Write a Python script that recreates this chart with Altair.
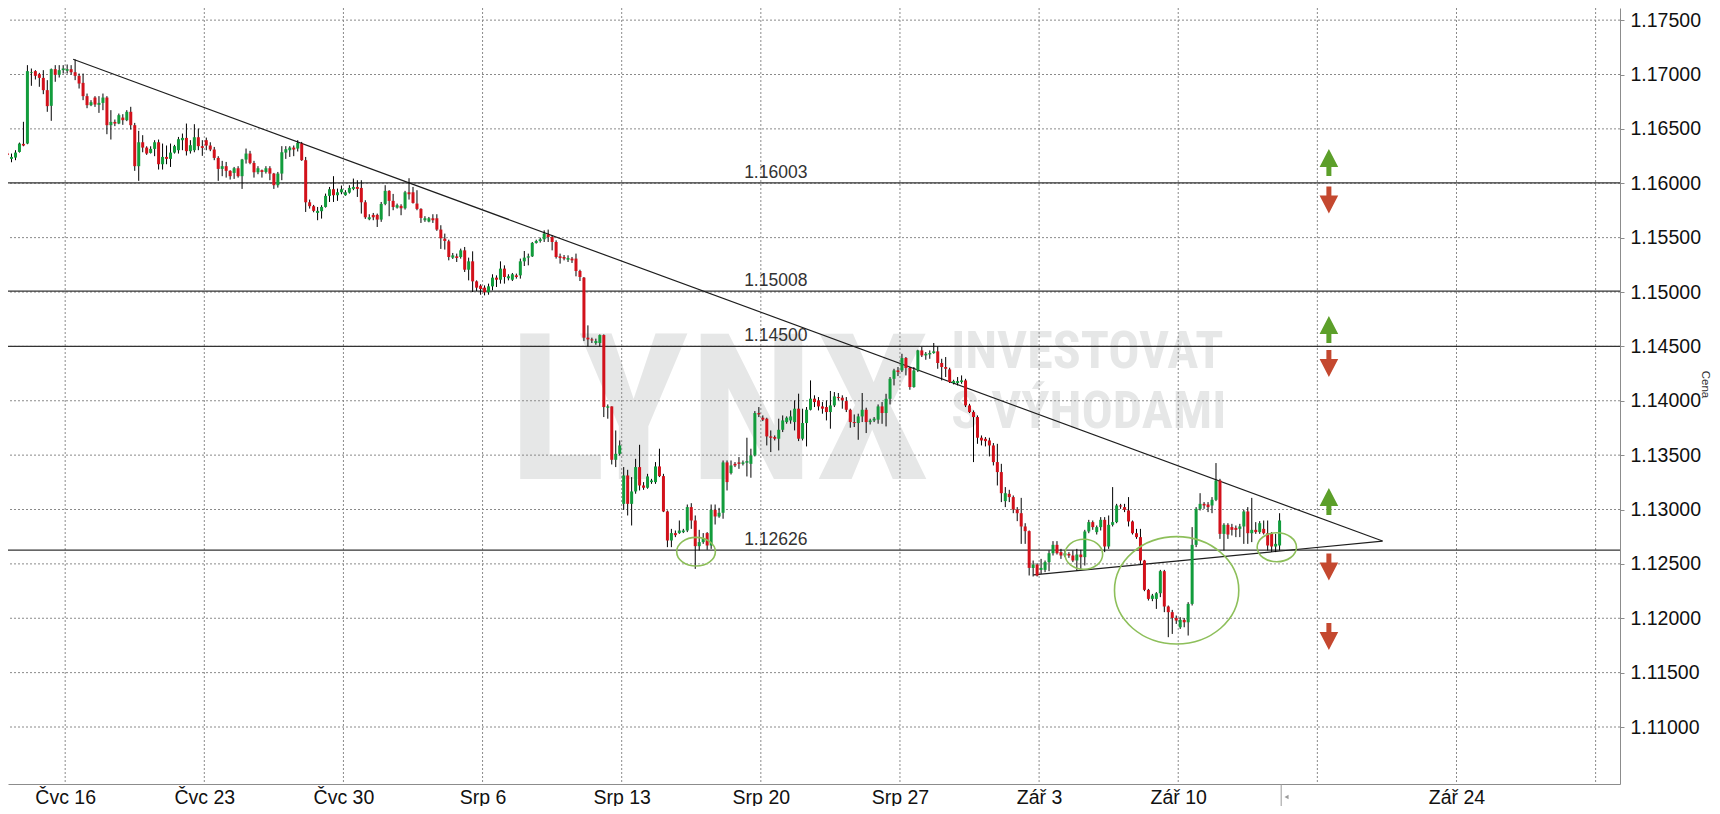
import json
import altair as alt
import pandas as pd

# ---------------- candle data (bar index based) ----------------
OPEN = [1.16273,1.16224,1.16236,1.16288,1.16362,1.16365,1.17015,1.17031,1.17003,1.16969,
1.16856,1.16712,1.17049,1.16997,1.17040,1.17034,1.17049,1.17021,1.16988,1.16923,
1.16801,1.16718,1.16788,1.16721,1.16739,1.16788,1.16534,1.16564,1.16549,1.16604,
1.16580,1.16657,1.16534,1.16157,1.16377,1.16328,1.16279,1.16316,1.16377,1.16175,
1.16242,1.16224,1.16282,1.16304,1.16396,1.16417,1.16295,1.16304,1.16423,1.16341,
1.16396,1.16347,1.16310,1.16233,1.16132,1.16157,1.16114,1.16095,1.16138,1.16065,
1.16218,1.16273,1.16187,1.16101,1.16120,1.16104,1.16138,1.16089,1.15982,1.16089,
1.16282,1.16304,1.16328,1.16319,1.16365,1.16212,1.15825,1.15789,1.15727,1.15743,
1.15782,1.15884,1.15945,1.15890,1.15917,1.15890,1.15914,1.15948,1.15966,1.15957,
1.15825,1.15669,1.15709,1.15709,1.15666,1.15810,1.15930,1.15838,1.15776,1.15792,
1.15770,1.15917,1.15917,1.15813,1.15764,1.15660,1.15648,1.15678,1.15678,1.15574,
1.15491,1.15466,1.15316,1.15328,1.15322,1.15383,1.15205,1.15282,1.15098,1.15058,
1.15040,1.14997,1.15052,1.15132,1.15113,1.15215,1.15126,1.15113,1.15153,1.15153,
1.15282,1.15316,1.15328,1.15451,1.15469,1.15485,1.15528,1.15506,1.15460,1.15328,
1.15322,1.15297,1.15307,1.15307,1.15193,1.15132,1.14580,1.14564,1.14531,1.14531,
1.14604,1.13936,1.13948,1.13457,1.13512,1.13052,1.13313,1.13052,1.13166,1.13390,
1.13221,1.13200,1.13252,1.13252,1.13396,1.13307,1.12982,1.12715,1.12783,1.12783,
1.12792,1.12807,1.13022,1.12899,1.12663,1.12700,1.12783,1.12669,1.12997,1.12936,
1.12970,1.13433,1.13335,1.13420,1.13433,1.13420,1.13430,1.13420,1.13497,1.13887,
1.13844,1.13835,1.13672,1.13666,1.13651,1.13733,1.13804,1.13819,1.13804,1.13927,
1.13651,1.13795,1.13917,1.14019,1.14003,1.13948,1.13942,1.13896,1.13957,1.14034,
1.14028,1.13997,1.13917,1.13804,1.13795,1.13856,1.13917,1.13804,1.13819,1.13826,
1.13948,1.13887,1.14018,1.14202,1.14279,1.14279,1.14393,1.14301,1.14126,1.14279,
1.14463,1.14417,1.14426,1.14439,1.14454,1.14347,1.14310,1.14288,1.14163,1.14163,
1.14172,1.14187,1.13957,1.13896,1.13850,1.13660,1.13650,1.13635,1.13589,1.13436,
1.13344,1.13077,1.13144,1.13114,1.13000,1.12966,1.12844,1.12801,1.12463,1.12494,
1.12445,1.12445,1.12516,1.12598,1.12675,1.12608,1.12577,1.12592,1.12577,1.12531,
1.12586,1.12562,1.12798,1.12884,1.12792,1.12838,1.12905,1.12660,1.12859,1.12884,
1.13037,1.13022,1.12991,1.12890,1.12782,1.12746,1.12531,1.12261,1.12178,1.12178,
1.12230,1.12433,1.12108,1.12056,1.12003,1.11917,1.11985,1.11963,1.12132,1.12675,
1.13006,1.13052,1.13046,1.13037,1.13089,1.13267,1.12776,1.12859,1.12838,1.12831,
1.12822,1.12844,1.12982,1.12782,1.12813,1.12792,1.12822,1.12782,1.12776,1.12660,
1.12669]
HIGH = [1.16304,1.16273,1.16304,1.16374,1.16565,1.17086,1.17055,1.17040,1.17015,1.17040,
1.16948,1.17055,1.17086,1.17086,1.17086,1.17092,1.17086,1.17138,1.17009,1.17009,
1.16825,1.16764,1.16801,1.16801,1.16825,1.16801,1.16672,1.16586,1.16641,1.16635,
1.16672,1.16703,1.16555,1.16482,1.16442,1.16340,1.16340,1.16396,1.16402,1.16365,
1.16347,1.16365,1.16353,1.16426,1.16457,1.16549,1.16396,1.16543,1.16503,1.16396,
1.16420,1.16377,1.16334,1.16249,1.16206,1.16196,1.16120,1.16150,1.16157,1.16224,
1.16319,1.16298,1.16206,1.16157,1.16126,1.16157,1.16157,1.16095,1.16104,1.16341,
1.16341,1.16341,1.16347,1.16396,1.16380,1.16242,1.15850,1.15801,1.15782,1.15798,
1.15905,1.15966,1.16065,1.15951,1.15979,1.15936,1.15982,1.16043,1.16028,1.16028,
1.15844,1.15715,1.15727,1.15721,1.15828,1.15982,1.15936,1.15902,1.15813,1.15807,
1.15930,1.16046,1.15966,1.15936,1.15770,1.15697,1.15690,1.15715,1.15715,1.15614,
1.15537,1.15481,1.15359,1.15353,1.15399,1.15414,1.15316,1.15374,1.15107,1.15071,
1.15061,1.15077,1.15163,1.15153,1.15282,1.15245,1.15163,1.15175,1.15169,1.15307,
1.15377,1.15353,1.15460,1.15481,1.15500,1.15567,1.15574,1.15521,1.15475,1.15353,
1.15340,1.15337,1.15322,1.15353,1.15205,1.15138,1.14693,1.14580,1.14571,1.14610,
1.14610,1.13966,1.13948,1.13727,1.13635,1.13390,1.13365,1.13298,1.13466,1.13595,
1.13252,1.13328,1.13282,1.13436,1.13559,1.13328,1.12991,1.12822,1.12807,1.12899,
1.12822,1.13046,1.13058,1.12945,1.12813,1.12783,1.12792,1.13046,1.13046,1.13015,
1.13451,1.13451,1.13451,1.13436,1.13482,1.13451,1.13660,1.13559,1.13905,1.13942,
1.13865,1.13844,1.13727,1.13681,1.13835,1.13865,1.13856,1.13911,1.14003,1.14065,
1.13927,1.13942,1.14187,1.14050,1.14034,1.13988,1.14003,1.14090,1.14080,1.14071,
1.14050,1.14034,1.13927,1.13874,1.13881,1.14071,1.13936,1.13835,1.13850,1.13966,
1.13988,1.14064,1.14218,1.14294,1.14310,1.14432,1.14402,1.14310,1.14310,1.14469,
1.14494,1.14448,1.14463,1.14531,1.14500,1.14386,1.14402,1.14304,1.14193,1.14218,
1.14233,1.14202,1.13972,1.13911,1.13865,1.13681,1.13666,1.13660,1.13611,1.13604,
1.13420,1.13206,1.13181,1.13129,1.13022,1.13107,1.12874,1.12807,1.12531,1.12506,
1.12546,1.12531,1.12623,1.12709,1.12709,1.12638,1.12623,1.12608,1.12623,1.12638,
1.12629,1.12813,1.12905,1.12899,1.12853,1.12930,1.12930,1.12945,1.13206,1.13052,
1.13052,1.13052,1.13114,1.12899,1.12822,1.12822,1.12537,1.12270,1.12224,1.12240,
1.12445,1.12445,1.12117,1.12077,1.12025,1.12010,1.12003,1.12148,1.12838,1.13022,
1.13150,1.13068,1.13068,1.13114,1.13427,1.13282,1.12874,1.12874,1.12868,1.12853,
1.12868,1.12997,1.13022,1.13107,1.12884,1.12893,1.12899,1.12899,1.12792,1.12776,
1.12966]
LOW = [1.16242,1.16193,1.16212,1.16282,1.16340,1.16359,1.16896,1.16954,1.16887,1.16819,
1.16657,1.16574,1.16933,1.16972,1.17009,1.17009,1.17000,1.16948,1.16871,1.16764,
1.16690,1.16709,1.16702,1.16647,1.16672,1.16451,1.16402,1.16525,1.16543,1.16537,
1.16571,1.16494,1.16114,1.16022,1.16285,1.16261,1.16273,1.16249,1.16126,1.16126,
1.16175,1.16150,1.16273,1.16273,1.16304,1.16255,1.16273,1.16285,1.16304,1.16252,
1.16304,1.16295,1.16212,1.16022,1.16065,1.16052,1.16034,1.16040,1.16052,1.15948,
1.16181,1.16175,1.16052,1.16083,1.16052,1.16089,1.16028,1.15948,1.15960,1.16028,
1.16224,1.16242,1.16249,1.16292,1.16206,1.15736,1.15767,1.15733,1.15660,1.15675,
1.15776,1.15828,1.15828,1.15838,1.15899,1.15885,1.15905,1.15936,1.15874,1.15721,
1.15672,1.15660,1.15660,1.15598,1.15645,1.15798,1.15697,1.15752,1.15767,1.15706,
1.15758,1.15850,1.15813,1.15752,1.15635,1.15645,1.15641,1.15635,1.15562,1.15396,
1.15390,1.15291,1.15304,1.15276,1.15307,1.15184,1.15107,1.15000,1.15009,1.14975,
1.14969,1.14975,1.15015,1.15046,1.15077,1.15077,1.15107,1.15101,1.15123,1.15123,
1.15239,1.15245,1.15322,1.15445,1.15454,1.15460,1.15460,1.15383,1.15307,1.15261,
1.15291,1.15276,1.15267,1.15144,1.15101,1.14549,1.14500,1.14531,1.14515,1.14500,
1.13850,1.13835,1.13414,1.13390,1.13497,1.12997,1.12945,1.12853,1.13145,1.13175,
1.13181,1.13191,1.13236,1.13236,1.13298,1.12976,1.12654,1.12654,1.12746,1.12776,
1.12783,1.12792,1.12822,1.12454,1.12623,1.12684,1.12629,1.12638,1.12862,1.12924,
1.12915,1.13175,1.13322,1.13390,1.13374,1.13405,1.13304,1.13292,1.13488,1.13850,
1.13813,1.13589,1.13528,1.13635,1.13543,1.13712,1.13789,1.13789,1.13727,1.13629,
1.13635,1.13580,1.13911,1.13942,1.13911,1.13881,1.13819,1.13743,1.13942,1.14003,
1.13927,1.13896,1.13752,1.13758,1.13641,1.13804,1.13703,1.13782,1.13804,1.13789,
1.13788,1.13764,1.13966,1.14141,1.14227,1.14264,1.14233,1.14101,1.14120,1.14264,
1.14402,1.14377,1.14386,1.14432,1.14294,1.14187,1.14218,1.14163,1.14150,1.14141,
1.14156,1.13942,1.13887,1.13436,1.13604,1.13589,1.13580,1.13488,1.13405,1.13221,
1.13068,1.13022,1.13068,1.12966,1.12893,1.12684,1.12684,1.12393,1.12384,1.12384,
1.12408,1.12424,1.12433,1.12577,1.12586,1.12546,1.12562,1.12555,1.12516,1.12439,
1.12454,1.12485,1.12782,1.12813,1.12770,1.12807,1.12608,1.12638,1.12844,1.12874,
1.13006,1.12976,1.12844,1.12770,1.12730,1.12500,1.12249,1.12163,1.12157,1.12086,
1.12194,1.12056,1.11826,1.11856,1.11948,1.11902,1.11917,1.11841,1.12117,1.12654,
1.12991,1.13006,1.12976,1.12966,1.13077,1.12730,1.12623,1.12730,1.12761,1.12746,
1.12746,1.12684,1.12684,1.12700,1.12776,1.12776,1.12770,1.12623,1.12608,1.12608,
1.12623]
CLOSE = [1.16261,1.16242,1.16282,1.16365,1.16347,1.17031,1.17021,1.16988,1.16969,1.16856,
1.16709,1.17049,1.16997,1.17040,1.17055,1.17049,1.17021,1.16988,1.16917,1.16801,
1.16718,1.16745,1.16724,1.16739,1.16788,1.16534,1.16564,1.16549,1.16626,1.16580,
1.16657,1.16534,1.16157,1.16377,1.16328,1.16273,1.16316,1.16377,1.16175,1.16242,
1.16224,1.16282,1.16341,1.16405,1.16417,1.16295,1.16350,1.16423,1.16341,1.16325,
1.16347,1.16310,1.16233,1.16132,1.16157,1.16114,1.16065,1.16138,1.16065,1.16218,
1.16273,1.16187,1.16101,1.16138,1.16104,1.16138,1.16089,1.15982,1.16089,1.16285,
1.16313,1.16328,1.16310,1.16371,1.16212,1.15825,1.15789,1.15746,1.15746,1.15782,
1.15884,1.15945,1.15890,1.15917,1.15945,1.15917,1.15957,1.15966,1.15948,1.15825,
1.15687,1.15687,1.15687,1.15666,1.15810,1.15930,1.15838,1.15782,1.15798,1.15770,
1.15917,1.15899,1.15819,1.15764,1.15681,1.15678,1.15678,1.15660,1.15574,1.15494,
1.15469,1.15322,1.15337,1.15313,1.15383,1.15205,1.15282,1.15098,1.15040,1.15028,
1.14997,1.15052,1.15132,1.15113,1.15215,1.15138,1.15144,1.15163,1.15138,1.15282,
1.15316,1.15328,1.15451,1.15469,1.15485,1.15537,1.15506,1.15460,1.15322,1.15313,
1.15307,1.15313,1.15291,1.15193,1.15138,1.14580,1.14564,1.14555,1.14549,1.14604,
1.13942,1.13948,1.13457,1.13512,1.13589,1.13313,1.13052,1.13166,1.13390,1.13221,
1.13200,1.13304,1.13267,1.13396,1.13307,1.12982,1.12715,1.12783,1.12764,1.12807,
1.12807,1.13022,1.12899,1.12663,1.12700,1.12730,1.12669,1.12997,1.12936,1.12970,
1.13433,1.13252,1.13405,1.13405,1.13420,1.13433,1.13445,1.13497,1.13887,1.13874,
1.13826,1.13672,1.13660,1.13651,1.13733,1.13819,1.13844,1.13856,1.13927,1.13651,
1.13795,1.13917,1.14019,1.13988,1.13948,1.13927,1.13896,1.13957,1.14040,1.14025,
1.14003,1.13917,1.13804,1.13795,1.13856,1.13917,1.13804,1.13819,1.13835,1.13948,
1.13887,1.14018,1.14202,1.14279,1.14264,1.14393,1.14301,1.14126,1.14279,1.14463,
1.14417,1.14432,1.14439,1.14454,1.14347,1.14310,1.14294,1.14172,1.14181,1.14181,
1.14187,1.13957,1.13896,1.13850,1.13660,1.13635,1.13629,1.13589,1.13436,1.13344,
1.13150,1.13150,1.13114,1.13000,1.12966,1.12844,1.12801,1.12463,1.12494,1.12393,
1.12463,1.12516,1.12598,1.12675,1.12598,1.12577,1.12598,1.12577,1.12531,1.12586,
1.12562,1.12798,1.12884,1.12838,1.12838,1.12905,1.12660,1.12859,1.12884,1.13037,
1.13028,1.12997,1.12890,1.12782,1.12746,1.12531,1.12261,1.12178,1.12209,1.12230,
1.12433,1.12108,1.12056,1.12003,1.11979,1.11985,1.11963,1.12132,1.12675,1.13006,
1.13052,1.13037,1.13022,1.13089,1.13267,1.12776,1.12859,1.12770,1.12813,1.12813,
1.12844,1.12982,1.12782,1.12813,1.12792,1.12874,1.12782,1.12669,1.12660,1.12684,
1.12899]

# ---------------- axes ----------------
WEEK_POS = [14.5, 49.5, 84.5, 119.5, 154.5, 189.5, 224.5, 259.5, 294.5, 329.5, 364.5, 399.5]
WEEK_LABELS = ["Čvc 16", "Čvc 23", "Čvc 30", "Srp 6", "Srp 13", "Srp 20", "Srp 27",
               "Zář 3", "Zář 10", "", "Zář 24", ""]
PRICE_TICKS = [1.110, 1.115, 1.120, 1.125, 1.130, 1.135, 1.140, 1.145,
               1.150, 1.155, 1.160, 1.165, 1.170, 1.175]

# ---------------- annotations ----------------
LEVELS = [1.16003, 1.15008, 1.14500, 1.12626]
LEVEL_TEXT = ["1.16003", "1.15008", "1.14500", "1.12626"]
TREND_ID = ["upper", "upper", "lower", "lower"]
TREND_X = [16.5, 345.9, 258.1, 345.9]
TREND_Y = [1.17140, 1.12710, 1.12398, 1.12710]
ELL_X = [173.2, 270.75, 294.1, 319.3]
ELL_Y = [1.12612, 1.12588, 1.12257, 1.12653]
ELL_W = [38.7, 37.7, 124.3, 39.3]
ELL_H = [28.7, 30.0, 107.3, 29.0]
UP_ARROW_Y = [1.16191, 1.14655, 1.13074]
DOWN_ARROW_Y = [1.15846, 1.14343, 1.12471, 1.11832]
ARROW_X = 332.4
WM_BIG = "LYNX"
WM_SMALL = ["INVESTOVAT", "S VÝHODAMI"]
WM_SMALL_Y = [1.14298, 1.13750]

GREEN = "#129c3c"
RED = "#d2111b"
FONT = "Liberation Sans, Arial, sans-serif"
WM_FONT = "Roboto Condensed, Liberation Sans Narrow, Liberation Sans, sans-serif"

XS = alt.Scale(domain=[1.375, 404.375], nice=False, zero=False)
YS = alt.Scale(domain=[1.104759, 1.176115], nice=False, zero=False)

label_expr = "{}[indexof({}, datum.value)]".format(
    json.dumps(WEEK_LABELS, ensure_ascii=False), json.dumps(WEEK_POS))

X_AXIS = alt.Axis(values=WEEK_POS, labelExpr=label_expr, grid=False, ticks=False, tickSize=0,
                  domainColor="#8c8c8c", labelFont=FONT, labelFontSize=19.5, labelColor="#111",
                  labelPadding=4, title=None, labelOverlap=False, labelFlush=False)
Y_AXIS = alt.Axis(orient="right", values=PRICE_TICKS, format=".5f", grid=False, tickSize=4,
                  tickColor="#8c8c8c", domainColor="#8c8c8c", labelFont=FONT, labelFontSize=19.5,
                  labelColor="#111", labelPadding=6, labelOverlap=False, labelFlush=False,
                  title="Cena", titleFont=FONT, titleFontSize=11.5, titleFontWeight="normal",
                  titleColor="#333", titleAngle=90, titleX=84, titleY=376,
                  titleAlign="center", titleBaseline="middle")


def X(field):
    return alt.X(field, type="quantitative", scale=XS, axis=X_AXIS)


def Y(field):
    return alt.Y(field, type="quantitative", scale=YS, axis=Y_AXIS)


candles = pd.DataFrame({"i": list(range(len(OPEN))), "open": OPEN, "high": HIGH,
                        "low": LOW, "close": CLOSE})
candles["dir"] = ["up" if c >= o else "down" for o, c in zip(OPEN, CLOSE)]

# watermark
wm_big = alt.Chart(pd.DataFrame({"x": [179.0], "y": [1.13281], "t": [WM_BIG]})).mark_text(
    font=WM_FONT, fontWeight="bold", fontSize=204, color="#e6e7e7", align="center",
    baseline="alphabetic").encode(x=X("x"), y=Y("y"), text="t:N")
wm_small = alt.Chart(pd.DataFrame({"x": [237.4, 237.4], "y": WM_SMALL_Y, "t": WM_SMALL})).mark_text(
    font=WM_FONT, fontWeight="bold", fontSize=52, color="#e6e7e7", align="left",
    baseline="alphabetic").encode(x=X("x"), y=Y("y"), text="t:N")

# grid
grid_h = alt.Chart(pd.DataFrame({"y": PRICE_TICKS})).mark_rule(
    color="#8a8a8a", strokeWidth=1, strokeDash=[2, 2]).encode(y=Y("y"))
grid_v = alt.Chart(pd.DataFrame({"x": WEEK_POS})).mark_rule(
    color="#8a8a8a", strokeWidth=1, strokeDash=[2, 2]).encode(x=X("x"))

# horizontal levels
lev_df = pd.DataFrame({"y": LEVELS, "t": LEVEL_TEXT, "x": [185.3] * len(LEVELS)})
levels = alt.Chart(lev_df).mark_rule(color="#333", strokeWidth=1.3).encode(y=Y("y"))
level_txt = alt.Chart(lev_df).mark_text(font=FONT, fontSize=17.5, color="#333", align="left",
                                        baseline="alphabetic", dy=-5).encode(
    x=X("x"), y=Y("y"), text="t:N")

# trend lines
trend = alt.Chart(pd.DataFrame({"g": TREND_ID, "x": TREND_X, "y": TREND_Y})).mark_line(
    color="#1e1e1e", strokeWidth=1.2).encode(x=X("x"), y=Y("y"), detail="g:N")

# candles
cscale = alt.Scale(domain=["up", "down"], range=[GREEN, RED])
wicks = alt.Chart(candles).mark_rule(color="#000", strokeWidth=1, clip=True).encode(
    x=X("i"), y=Y("low"), y2="high")
bodies = alt.Chart(candles).mark_bar(size=3, clip=True).encode(
    x=X("i"), y=Y("open"), y2="close",
    color=alt.Color("dir:N", scale=cscale, legend=None))

# ellipses
ell_df = pd.DataFrame({"x": ELL_X, "y": ELL_Y})
ell_df["shape"] = ["M-1,0 A1,{r:.4f} 0 1,0 1,0 A1,{r:.4f} 0 1,0 -1,0 Z".format(r=h / w)
                   for w, h in zip(ELL_W, ELL_H)]
ell_df["size"] = [w * w for w in ELL_W]
ellipses = alt.Chart(ell_df).mark_point(filled=False, opacity=1, color="#8dbf5a",
                                        strokeWidth=1.6).encode(
    x=X("x"), y=Y("y"), shape=alt.Shape("shape:N", scale=None, legend=None),
    size=alt.Size("size:Q", scale=None, legend=None))

# arrows
UP_PATH = "M0,-1 L0.69,0.33 L0.185,0.33 L0.185,1 L-0.185,1 L-0.185,0.33 L-0.69,0.33 Z"
DOWN_PATH = "M0,1 L0.69,-0.33 L0.185,-0.33 L0.185,-1 L-0.185,-1 L-0.185,-0.33 L-0.69,-0.33 Z"
up_arrows = alt.Chart(pd.DataFrame({"x": [ARROW_X] * len(UP_ARROW_Y), "y": UP_ARROW_Y})).mark_point(
    filled=True, opacity=1, strokeWidth=0, size=729, shape=UP_PATH, color="#5c9f2a").encode(
    x=X("x"), y=Y("y"))
down_arrows = alt.Chart(pd.DataFrame({"x": [ARROW_X] * len(DOWN_ARROW_Y), "y": DOWN_ARROW_Y})).mark_point(
    filled=True, opacity=1, strokeWidth=0, size=729, shape=DOWN_PATH, color="#c4482f").encode(
    x=X("x"), y=Y("y"))

# current-bar marker under the time axis
marker_rule = alt.Chart(pd.DataFrame({"x": [320.4]})).mark_rule(color="#9a9a9a").encode(
    x=X("x"), y=alt.value(776), y2=alt.value(798))
marker_tri = alt.Chart(pd.DataFrame({"x": [321.75]})).mark_point(
    shape="triangle-left", filled=True, size=22, color="#9a9a9a", opacity=1).encode(
    x=X("x"), y=alt.value(789))

chart = alt.layer(
    wm_big, wm_small, grid_h, grid_v, levels, level_txt, trend, wicks, bodies,
    ellipses, up_arrows, down_arrows, marker_rule, marker_tri
).properties(
    width=1612, height=776, background="white",
    autosize=alt.AutoSizeParams(type="none"),
    padding={"left": 0, "top": 0, "right": 92, "bottom": 22},
).configure_view(stroke=None)

chart.save("out.html", embed_options={"renderer": "svg", "actions": False})
